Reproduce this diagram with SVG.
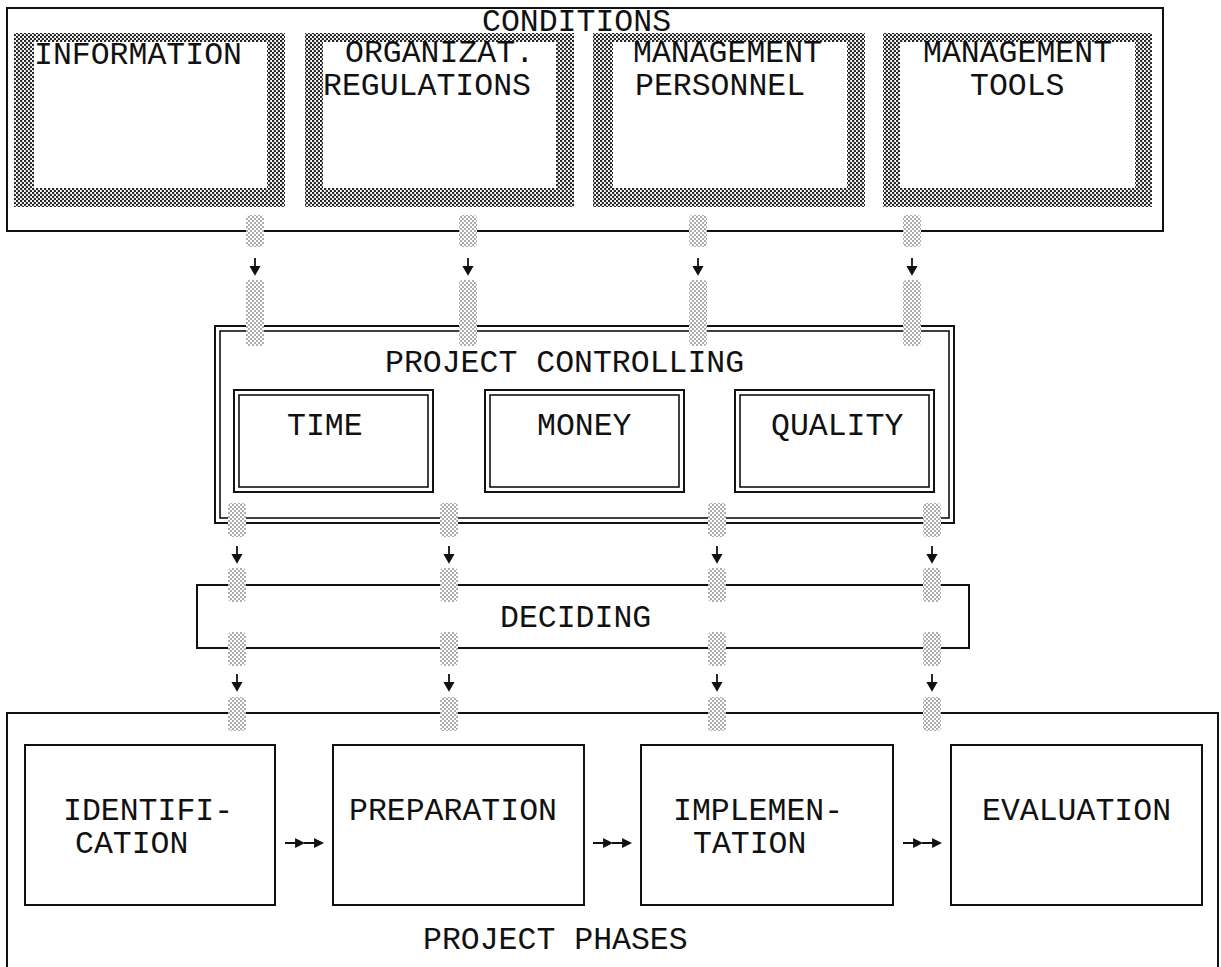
<svg xmlns="http://www.w3.org/2000/svg" width="1221" height="967" viewBox="0 0 1221 967">
  <defs>
    <!-- dense dither used for the condition frames -->
    <pattern id="dither" width="4" height="4" patternUnits="userSpaceOnUse">
      <rect width="4" height="4" fill="#fff"/>
      <ellipse cx="1" cy="1" rx="1.4" ry="1.05" fill="#1a1a1a"/>
      <ellipse cx="3" cy="3" rx="1.4" ry="1.05" fill="#1a1a1a"/>
    </pattern>
    <!-- light stipple used for the link stubs -->
    <pattern id="stipple" width="4" height="4" patternUnits="userSpaceOnUse">
      <rect width="4" height="4" fill="#fff"/>
      <circle cx="1" cy="1" r="0.75" fill="#333"/>
      <circle cx="3" cy="3" r="0.75" fill="#333"/>
    </pattern>
    <path id="down" d="M0,0 V10 M-4,9 L0,16 L4,9 Z"/>
    <path id="right" d="M0,0 H12 M11,-3.5 L18,0 L11,3.5 Z"/>
  </defs>
  <style>
    text { font-family: "Liberation Mono", "Courier New", monospace; font-size: 31.5px; fill: #111; }
    .box { fill: #fff; stroke: #111; stroke-width: 2; }
    .thin { fill: none; stroke: #111; stroke-width: 1.6; }
    .frame { fill: url(#dither); }
    .hole { fill: #fff; }
    .stub { fill: url(#stipple); }
    .arrow { fill: #111; stroke: #111; stroke-width: 1.8; }
  </style>

  <!-- conditions -->
  <g id="conditions">
    <rect class="box" x="7" y="8" width="1156" height="223"/>
    <text x="482" y="31">CONDITIONS</text>
  </g>
  <g id="information">
    <rect class="frame" x="14" y="33" width="271" height="174"/>
    <rect class="hole" x="34" y="42" width="233" height="146"/>
    <text x="34" y="64">INFORMATION</text>
  </g>
  <g id="organization">
    <rect class="frame" x="305" y="33" width="269" height="174"/>
    <rect class="hole" x="323" y="42" width="233" height="146"/>
    <text x="345" y="62">ORGANIZAT.</text>
    <text x="323" y="95">REGULATIONS</text>
  </g>
  <g id="personnel">
    <rect class="frame" x="593" y="33" width="272" height="174"/>
    <rect class="hole" x="613" y="42" width="234" height="146"/>
    <text x="633" y="62">MANAGEMENT</text>
    <text x="635" y="95">PERSONNEL</text>
  </g>
  <g id="tools">
    <rect class="frame" x="883" y="33" width="269" height="174"/>
    <rect class="hole" x="900" y="42" width="235" height="146"/>
    <text x="923" y="62">MANAGEMENT</text>
    <text x="970" y="95">TOOLS</text>
  </g>

  <!-- project controlling -->
  <g id="controlling">
    <rect class="box" x="215" y="326" width="739" height="197"/>
    <rect class="thin" x="220" y="331" width="729" height="187"/>
    <text x="385" y="372">PROJECT CONTROLLING</text>
  </g>
  <g id="time">
    <rect class="box" x="234" y="390" width="199" height="102"/>
    <rect class="thin" x="239" y="395" width="189" height="92"/>
    <text x="287" y="435">TIME</text>
  </g>
  <g id="money">
    <rect class="box" x="485" y="390" width="199" height="102"/>
    <rect class="thin" x="490" y="395" width="189" height="92"/>
    <text x="537" y="435">MONEY</text>
  </g>
  <g id="quality">
    <rect class="box" x="735" y="390" width="199" height="102"/>
    <rect class="thin" x="740" y="395" width="189" height="92"/>
    <text x="771" y="435">QUALITY</text>
  </g>

  <!-- deciding -->
  <g id="deciding">
    <rect class="box" x="197" y="585" width="772" height="63"/>
    <text x="500" y="627">DECIDING</text>
  </g>

  <!-- project phases -->
  <g id="phases">
    <path class="box" d="M7,975 V713 H1218 V975" fill="none"/>
    <text x="423" y="949">PROJECT PHASES</text>
  </g>
  <g id="identification">
    <rect class="box" x="25" y="745" width="250" height="160"/>
    <text x="63" y="820">IDENTIFI-</text>
    <text x="75" y="853">CATION</text>
  </g>
  <g id="preparation">
    <rect class="box" x="333" y="745" width="251" height="160"/>
    <text x="349" y="820">PREPARATION</text>
  </g>
  <g id="implementation">
    <rect class="box" x="641" y="745" width="252" height="160"/>
    <text x="673" y="820">IMPLEMEN-</text>
    <text x="693" y="853">TATION</text>
  </g>
  <g id="evaluation">
    <rect class="box" x="951" y="745" width="251" height="160"/>
    <text x="982" y="820">EVALUATION</text>
  </g>

  <!-- connectors: stippled stubs cut through the borders, arrows between them -->
  <g id="connectors">
    <g id="links-conditions">
      <rect class="stub" x="246" y="215" width="18" height="32" rx="4"/>
      <rect class="stub" x="459" y="215" width="18" height="32" rx="4"/>
      <rect class="stub" x="689" y="215" width="18" height="32" rx="4"/>
      <rect class="stub" x="903" y="215" width="18" height="32" rx="4"/>
      <use href="#down" class="arrow" x="255" y="258"/>
      <use href="#down" class="arrow" x="468" y="258"/>
      <use href="#down" class="arrow" x="698" y="258"/>
      <use href="#down" class="arrow" x="912" y="258"/>
      <rect class="stub" x="246" y="280" width="18" height="66" rx="4"/>
      <rect class="stub" x="459" y="280" width="18" height="66" rx="4"/>
      <rect class="stub" x="689" y="280" width="18" height="66" rx="4"/>
      <rect class="stub" x="903" y="280" width="18" height="66" rx="4"/>
    </g>
    <g id="links-controlling">
      <rect class="stub" x="228" y="503" width="18" height="34" rx="4"/>
      <rect class="stub" x="440" y="503" width="18" height="34" rx="4"/>
      <rect class="stub" x="708" y="503" width="18" height="34" rx="4"/>
      <rect class="stub" x="923" y="503" width="18" height="34" rx="4"/>
      <use href="#down" class="arrow" x="237" y="546"/>
      <use href="#down" class="arrow" x="449" y="546"/>
      <use href="#down" class="arrow" x="717" y="546"/>
      <use href="#down" class="arrow" x="932" y="546"/>
      <rect class="stub" x="228" y="568" width="18" height="34" rx="4"/>
      <rect class="stub" x="440" y="568" width="18" height="34" rx="4"/>
      <rect class="stub" x="708" y="568" width="18" height="34" rx="4"/>
      <rect class="stub" x="923" y="568" width="18" height="34" rx="4"/>
    </g>
    <g id="links-deciding">
      <rect class="stub" x="228" y="632" width="18" height="34" rx="4"/>
      <rect class="stub" x="440" y="632" width="18" height="34" rx="4"/>
      <rect class="stub" x="708" y="632" width="18" height="34" rx="4"/>
      <rect class="stub" x="923" y="632" width="18" height="34" rx="4"/>
      <use href="#down" class="arrow" x="237" y="674"/>
      <use href="#down" class="arrow" x="449" y="674"/>
      <use href="#down" class="arrow" x="717" y="674"/>
      <use href="#down" class="arrow" x="932" y="674"/>
      <rect class="stub" x="228" y="697" width="18" height="34" rx="4"/>
      <rect class="stub" x="440" y="697" width="18" height="34" rx="4"/>
      <rect class="stub" x="708" y="697" width="18" height="34" rx="4"/>
      <rect class="stub" x="923" y="697" width="18" height="34" rx="4"/>
    </g>
    <g id="links-phases">
      <use href="#right" class="arrow" x="285" y="843"/>
      <use href="#right" class="arrow" x="304" y="843"/>
      <use href="#right" class="arrow" x="593" y="843"/>
      <use href="#right" class="arrow" x="612" y="843"/>
      <use href="#right" class="arrow" x="903" y="843"/>
      <use href="#right" class="arrow" x="922" y="843"/>
    </g>
  </g>
</svg>
